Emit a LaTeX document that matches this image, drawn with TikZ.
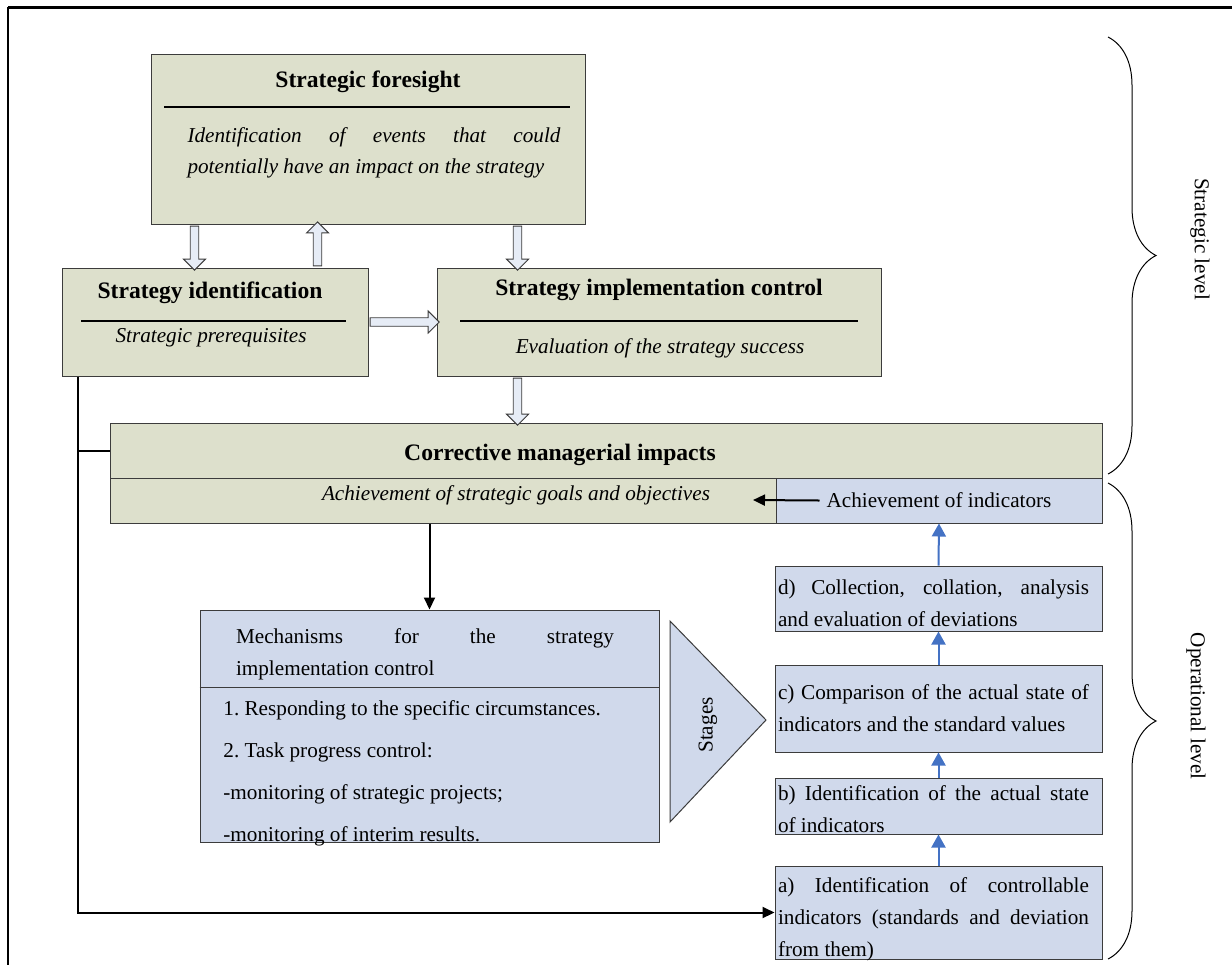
\documentclass[tikz,border=0pt]{standalone}
\usepackage{fontspec}
\setmainfont{Liberation Serif}
\usetikzlibrary{positioning,calc,fit,shapes.arrows,arrows.meta,decorations.pathreplacing}

\definecolor{olivefill}{RGB}{221,224,204}
\definecolor{bluefill}{RGB}{208,217,235}
\definecolor{hollowfill}{RGB}{230,236,246}
\definecolor{flowblue}{RGB}{68,114,196}
\definecolor{boxline}{RGB}{60,60,60}

\tikzset{
  greenbox/.style={draw=boxline, fill=olivefill, line width=0.5pt, inner sep=0pt},
  bluebox/.style={draw=boxline, fill=bluefill, line width=0.5pt, inner sep=0pt},
  hollow/.style={single arrow, draw=boxline, fill=hollowfill, line width=0.45pt,
    inner xsep=0pt, inner ysep=1.9pt, minimum width=0pt,
    single arrow head extend=3.4pt, single arrow tip angle=90},
  mainline/.style={line width=1pt, -{Triangle[length=6pt, width=5.5pt]}},
  flow/.style={draw=flowblue, line width=1pt, -{Triangle[length=6.5pt, width=7pt]}},
  titlefont/.style={font=\fontsize{11.8}{14}\selectfont\bfseries},
  bodyfont/.style={font=\fontsize{10.6}{16}\selectfont},
  slantfont/.style={font=\fontsize{10.6}{15.5}\selectfont\itshape},
  justified/.style={align=justify, execute at begin node={\tolerance=10000\hyphenpenalty=10000}},
  levelbrace/.style={decorate, decoration={brace, amplitude=24pt}, line width=0.5pt}
}

\begin{document}
\begin{tikzpicture}[x=0.5pt, y=-0.5pt]
    \useasboundingbox (0,0) rectangle (1232,965);

    % Frame
    \draw[line width=1.5pt] (8,7) -- (1232,7);
    \draw[line width=0.6pt] (8,7) -- (8,965);

    % Strategic foresight
    \node[greenbox, fit={(151,54) (585,224)}] (foresight) {};
    \node[titlefont] (foresighttitle) at (368,82) {Strategic foresight};
    \draw[line width=1pt] (164,107) -- (570,107);
    \node[slantfont, text width=186.5pt, justified] (foresighttext) at (374,153)
        {Identification of events that could\linebreak potentially have an impact on the strategy};

    % Strategy identification
    \node[greenbox, fit={(62,268) (368,376)}] (ident) {};
    \node[titlefont] (identtitle) at (210,293) {Strategy identification};
    \draw[line width=1pt] (81,321) -- (346,321);
    \node[slantfont] (identtext) at (211,338) {Strategic prerequisites};

    % Strategy implementation control
    \node[greenbox, fit={(437,268) (881,376)}] (implement) {};
    \node[titlefont] (implementtitle) at (659,290) {Strategy implementation control};
    \draw[line width=1pt] (460,321) -- (858,321);
    \node[slantfont] (implementtext) at (660,348) {Evaluation of the strategy success};

    % Corrective impacts
    \node[greenbox, fit={(110,423) (1102,478)}] (corrective) {};
    \node[greenbox, fit={(110,478) (776,523)}] (goals) {};
    \node[bluebox, fit={(776,478) (1102,523)}] (indicators) {};
    \node[titlefont] (correctivetitle) at (560,455) {Corrective managerial impacts};
    \node[slantfont] (goalstext) at (516,495) {Achievement of strategic goals and objectives};
    \node[bodyfont] (indtext) at (indicators.center) {Achievement of indicators};
    \coordinate (goalsend) at (753,500);

    % Mechanisms
    \node[bluebox, fit={(200,610) (659,842)}] (mechanism) {};
    \draw[draw=boxline, line width=0.5pt] ([yshift=-39pt]mechanism.north west) -- ([yshift=-39pt]mechanism.north east);
    \node[bodyfont, text width=189pt, justified] (mechhead) at (425,654)
        {Mechanisms for the strategy\linebreak implementation control};
    \node[font=\fontsize{10.6}{21}\selectfont, align=left, anchor=north west, inner sep=0pt] (mechlist) at (223,700)
        {1.\ Responding to the specific circumstances.\\2.\ Task progress control:\\-monitoring of strategic projects;\\-monitoring of interim results.};

    % Stages
    \draw[draw=boxline, fill=bluefill, line width=0.5pt] (670,621) -- (766,720) -- (670,822) -- cycle;
    \node[bodyfont, rotate=90] (stages) at (708,725) {Stages};

    \node[bluebox, fit={(775,566) (1102,631)}] (stageD) {};
    \node[bodyfont, text width=155.5pt, justified] (stageDtext) at ([xshift=-2.5pt, yshift=-2.5pt]stageD.center)
        {d) Collection, collation, analysis\linebreak and evaluation of deviations};
    \node[bluebox, fit={(775,665) (1102,752)}] (stageC) {};
    \node[bodyfont, text width=155.5pt, justified] (stageCtext) at ([xshift=-2.5pt]stageC.center)
        {c) Comparison of the actual state of\linebreak indicators and the standard values};
    \node[bluebox, fit={(775,778) (1102,834)}] (stageB) {};
    \node[bodyfont, text width=155.5pt, justified] (stageBtext) at ([xshift=-2.5pt, yshift=-1.5pt]stageB.center)
        {b) Identification of the actual state\linebreak of indicators};
    \node[bluebox, fit={(775,866) (1102,959)}] (stageA) {};
    \node[bodyfont, text width=155.5pt, justified] (stageAtext) at ([xshift=-2.5pt, yshift=-3.5pt]stageA.center)
        {a) Identification of controllable\linebreak indicators (standards and deviation\linebreak from them)};

    % Hollow arrows
    \coordinate (fsleft) at ([xshift=22pt]foresight.south west);
    \coordinate (fsup) at ([xshift=83.5pt]foresight.south west);
    \coordinate (fsright) at ([xshift=40.5pt]implement.north west);
    \path (fsleft) -- (fsleft |- ident.north)
        node[hollow, midway, rotate=-90, minimum height=22pt] (downleft) {};
    \path (fsup |- ident.north) -- (fsup)
        node[hollow, midway, rotate=90, minimum height=22pt] (upleft) {};
    \path (fsright |- foresight.south) -- (fsright)
        node[hollow, midway, rotate=-90, minimum height=22pt] (downright) {};
    \path (ident.east) -- (implement.west)
        node[hollow, midway, minimum height=34.5pt] (across) {};
    \path (implement.south -| fsright) -- (corrective.north -| fsright)
        node[hollow, midway, rotate=-90, minimum height=23.5pt] (downmid) {};

    % Black connectors
    \coordinate (trunk) at ([xshift=8pt]ident.south west);
    \draw[line width=1pt] (trunk |- corrective.west) -- (corrective.west);
    \draw[mainline] (trunk) |- (stageA.west);
    \draw[mainline] (goals.south -| mechanism.north) -- (mechanism.north);
    \draw[mainline] (indtext.west) -- (goalsend);

    % Blue flow
    \draw[flow] (stageA.north) -- (stageB.south);
    \draw[flow] (stageB.north) -- (stageC.south);
    \draw[flow] (stageC.north) -- (stageD.south);
    \draw[flow] (stageD.north) -- (indicators.south);

    % Levels
    \coordinate (strattop) at (1108,37);
    \coordinate (stratbot) at (1108,474);
    \coordinate (optop) at (1108,483);
    \coordinate (opbot) at (1108,959);
    \draw[levelbrace] (strattop) -- (stratbot);
    \draw[levelbrace] (optop) -- (opbot);
    \node[bodyfont, rotate=-90] (stratlabel) at (1200,239) {Strategic level};
    \node[bodyfont, rotate=-90] (oplabel) at (1196,706) {Operational level};
\end{tikzpicture}
\end{document}
